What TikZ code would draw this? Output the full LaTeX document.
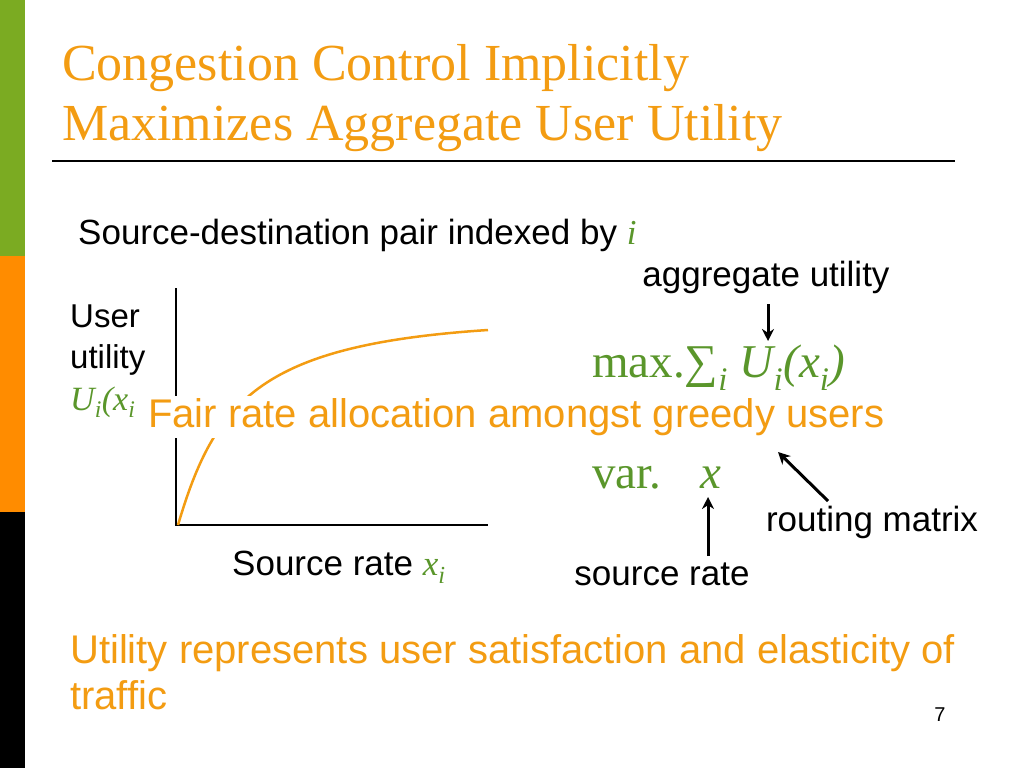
\documentclass[tikz,border=0pt]{standalone}
\usepackage{fontspec}
\setmainfont{Liberation Serif}
\setsansfont{Liberation Sans}
\usetikzlibrary{positioning,arrows.meta}
\definecolor{slideorange}{HTML}{F39C12}
\definecolor{slidegreen}{HTML}{5A962B}
\tikzset{
  body/.style={font=\sffamily\fontsize{35}{41}\selectfont, inner sep=0pt, anchor=west},
  big/.style={font=\sffamily\fontsize{40}{46}\selectfont},
  formula/.style={font=\fontsize{47}{54}\selectfont, text=slidegreen, inner sep=0pt, anchor=west},
  pointer/.style={-{Stealth[length=12pt,width=12pt]}, line width=3pt},
}
\begin{document}
\begin{tikzpicture}[x=1pt,y=-1pt]
  \useasboundingbox (0,0) rectangle (1024,768);
  % side bar
  \fill[slidegreen!80!yellow] (0,0) rectangle (25,256);
  \fill[orange!90!yellow] (0,256) rectangle (25,512);
  \fill[black] (0,512) rectangle (25,768);
  % title
  \node[anchor=west, inner sep=0pt, text=slideorange, font=\fontsize{52}{60}\selectfont] (title1) at (62,68) {Congestion Control Implicitly};
  \node[anchor=west, inner sep=0pt, text=slideorange, font=\fontsize{52}{60}\selectfont] (title2) at (62,128) {Maximizes Aggregate User Utility};
  \draw[line width=1.5pt] (52,161) -- (955,161);
  \node[body] (pair) at (78,235) {Source-destination pair indexed by \textcolor{slidegreen}{\rmfamily\itshape i}};
  % utility plot
  \draw[line width=2pt] (176,288) -- (176,525) -- (488,525);
  \draw[slideorange, line width=2.5pt] (178,525) .. controls (215,400) and (260,345) .. (488,330);
  \node[body, align=left, font=\sffamily\fontsize{33}{41}\selectfont] (user) at (70,340) {User\\utility};
  \node[body, text=slidegreen, font=\rmfamily\itshape\fontsize{34}{40}\selectfont] (uix) at (70,402) {U\textsubscript{i}(x\textsubscript{i}};
  \node[body] (srate) at (232,567) {Source rate \textcolor{slidegreen}{\rmfamily\itshape x\textsubscript{i}}};
  % formula
  \node[formula] (maxl) at (592,368) {max.∑\textsubscript{\itshape i} \textit{U\textsubscript{i}(x\textsubscript{i})}};
  \node[formula] (varl) at (592,478) {var.};
  \node[formula] (xvar) at (700,478) {\textit{x}};
  \node[body, anchor=center] (agg) at (766,277) {aggregate utility};
  \node[body, anchor=center] (route) at (872,522) {routing matrix};
  \node[body, anchor=center] (srcr) at (662,574) {source rate};
  \draw[pointer] (768,304) -- (768,341);
  \draw[pointer] (708,556) -- (708,497);
  \draw[pointer] (828,501) -- (778,452);
  % overlay
  \node[body, big, text=slideorange, fill=white, inner sep=2pt] (fair) at (146,417) {Fair rate allocation amongst greedy users};
  % bottom
  \node[body, big, text=slideorange, align=left, anchor=north west] (util) at (70,634) {Utility represents user satisfaction and elasticity of\\traffic};
  \node[font=\sffamily\fontsize{20}{24}\selectfont] (pnum) at (940,715) {7};
\end{tikzpicture}
\end{document}
